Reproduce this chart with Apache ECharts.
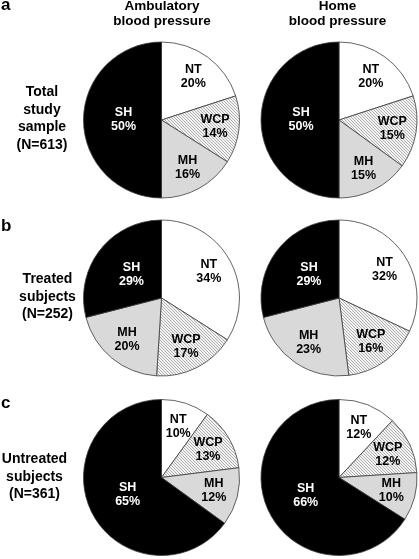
<!DOCTYPE html>
<html><head><meta charset="utf-8">
<script src="https://cdn.jsdelivr.net/npm/echarts@6/dist/echarts.min.js"></script>
<style>html,body{margin:0;padding:0;background:#fff}#c{width:419px;height:559px}</style>
</head><body><div id="c"></div>
<script>
const categories = ['NT', 'WCP', 'MH', 'SH'];
const ambulatoryTotal = [20, 14, 16, 50];
const homeTotal = [20, 15, 15, 50];
const ambulatoryTreated = [34, 17, 20, 29];
const homeTreated = [32, 16, 23, 29];
const ambulatoryUntreated = [10, 13, 12, 65];
const homeUntreated = [12, 12, 10, 66];
const columnTitles = ['Ambulatory\nblood pressure', 'Home\nblood pressure'];
const rowLetters = ['a', 'b', 'c'];
const rowTitles = ['Total\nstudy\nsample\n(N=613)', 'Treated\nsubjects\n(N=252)', 'Untreated\nsubjects\n(N=361)'];

const FONT = '"Liberation Sans", Arial, sans-serif';
const R = 78;
const colX = [161.5, 339];
const rowY = [120, 298, 477.5];
const grid = [[ambulatoryTotal, homeTotal], [ambulatoryTreated, homeTreated], [ambulatoryUntreated, homeUntreated]];

function hatch() {
  const c = document.createElement('canvas'); c.width = 3; c.height = 3;
  const g = c.getContext('2d');
  g.fillStyle = '#f3f3f3'; g.fillRect(0, 0, 3, 3);
  g.fillStyle = '#b0b0b0';
  for (let i = 0; i < 3; i++) g.fillRect(i, i, 1, 1);
  return c;
}
const fills = ['#ffffff', { image: hatch(), repeat: 'repeat' }, '#d9d9d9', '#000000'];

function pieSeries(values, cx, cy) {
  const main = {
    type: 'pie', center: [cx, cy], radius: [0, R], startAngle: 90, clockwise: true, silent: true,
    emphasis: { disabled: true }, label: { show: false }, labelLine: { show: false },
    itemStyle: { borderColor: '#3c3c3c', borderWidth: 0.8 },
    data: categories.map((n, i) => ({ name: n, value: values[i], itemStyle: { color: fills[i] } }))
  };
  const lbl = (radius, showFn, color) => ({
    type: 'pie', center: [cx, cy], radius: radius, startAngle: 90, clockwise: true, silent: true, z: 5,
    avoidLabelOverlap: false, emphasis: { disabled: true },
    itemStyle: { color: 'rgba(0,0,0,0)', borderWidth: 0 },
    label: { show: true, position: 'inside', formatter: '{b}\n{c}%', fontSize: 12.5, fontWeight: 'bold',
      lineHeight: 14, fontFamily: FONT, color: color, textBorderWidth: 0 },
    labelLine: { show: false },
    data: categories.map((n, i) => ({ name: n, value: values[i], label: { show: showFn(n) } }))
  });
  return [main, lbl([24, R], n => n !== 'SH', '#000'), lbl([0, 70], n => n === 'SH', '#fff')];
}

const series = [];
grid.forEach((row, r) => row.forEach((vals, c) => series.push(...pieSeries(vals, colX[c], rowY[r]))));

const titleStyle = { fontFamily: FONT, fontWeight: 'bold', color: '#000' };
const titles = [];
const colTitleX = [162, 337.5];
columnTitles.forEach((t, i) => titles.push({
  text: t, left: colTitleX[i], top: 14, padding: 0, textAlign: 'center', textVerticalAlign: 'middle',
  textStyle: Object.assign({ fontSize: 13.5, lineHeight: 15.5 }, titleStyle)
}));
const letterY = [5, 226, 403];
rowLetters.forEach((t, i) => titles.push({
  text: t, left: 1, top: letterY[i], padding: 0, textAlign: 'left', textVerticalAlign: 'middle',
  textStyle: Object.assign({ fontSize: 17, lineHeight: 17 }, titleStyle)
}));
const rowTitleX = [42, 47.5, 34.5];
const rowTitleY = [118.5, 297, 477];
rowTitles.forEach((t, i) => titles.push({
  text: t, left: rowTitleX[i], top: rowTitleY[i], padding: 0, textAlign: 'center', textVerticalAlign: 'middle',
  textStyle: Object.assign({ fontSize: 14, lineHeight: 17.5 }, titleStyle)
}));

const chart = echarts.init(document.getElementById('c'), null, { renderer: 'canvas' });
chart.setOption({ animation: false, backgroundColor: '#fff', title: titles, series: series });
</script></body></html>
